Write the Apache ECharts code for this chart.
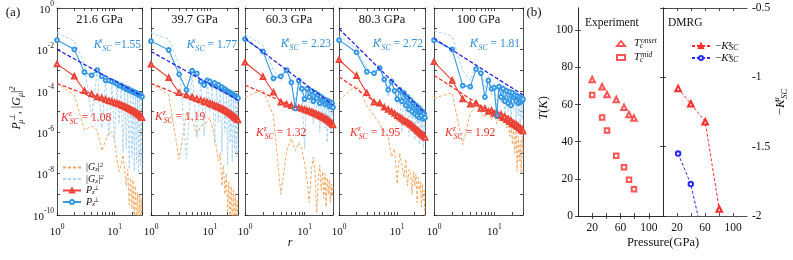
<!DOCTYPE html>
<html><head><meta charset="utf-8">
<script src="https://cdn.jsdelivr.net/npm/echarts@6/dist/echarts.min.js"></script>
<style>html,body{margin:0;padding:0;background:#fff}#c{width:793px;height:260px}</style>
</head><body><div id="c"></div>
<script>
// ---------------- DATA ----------------
const rValues = [1,2,3,4,5,6,7,8,9,10,11,12,13,14,15,16,17,18,19,20,21,22,23,24,25,26,27,28,29,30];
const xTickValues = [1,2,3,4,5,6,7,8,9,10,20,30];
const xLabelValues = [1,10];
const yTickValues = [1,1e-1,1e-2,1e-3,1e-4,1e-5,1e-6,1e-7,1e-8,1e-9,1e-10];
const yLabelValues = [1,1e-2,1e-4,1e-6,1e-8,1e-10];
const panelTitles = ['21.6 GPa','39.7 GPa','60.3 GPa','80.3 GPa','100 GPa'];
const kxTexts = [' =1.55',' = 1.77',' = 2.23',' = 2.72',' = 1.81'];
const kzTexts = [' = 1.08',' = 1.19',' = 1.32',' = 1.95',' = 1.92'];

// log10 of the plotted values (r = 1..30)
const pxLog1 = [-1.55,-2.0,-3.1,-3.25,-3.0,-3.3,-3.5,-3.5,-3.55,-3.6,-3.66,-3.75,-3.74,-3.84,-3.83,-3.92,-3.9,-3.98,-3.97,-4.04,-4.03,-4.09,-4.08,-4.14,-4.13,-4.19,-4.18,-4.23,-4.23,-4.28];
const pzLog1 = [-2.7,-3.3,-4.0,-4.15,-4.3,-4.35,-4.42,-4.48,-4.52,-4.57,-4.6,-4.64,-4.68,-4.72,-4.76,-4.8,-4.83,-4.87,-4.9,-4.94,-4.97,-5.0,-5.04,-5.07,-5.1,-5.14,-5.17,-5.2,-5.25,-5.3];
const gxLog1 = [-1.2,-1.6,-2.7,-5.3,-3.0,-5.8,-3.5,-6.2,-3.6,-6.5,-3.7,-5.6,-3.8,-7.0,-3.9,-6.8,-4.0,-7.8,-4.05,-7.2,-4.1,-7.9,-4.15,-7.5,-4.2,-8.0,-4.25,-7.6,-4.3,-8.0];
const gzLog1 = [-3.64,-4.2,-5.9,-5.7,-5.9,-6.9,-6.4,-6.0,-6.0,-6.4,-7.3,-7.9,-7.6,-7.1,-7.8,-8.6,-7.8,-9.5,-8.2,-9.7,-8.3,-10.5,-8.6,-10.3,-8.9,-10.8,-9.0,-10.5,-9.2,-10.8];

const pxLog2 = [-1.6,-2.03,-3.2,-3.96,-3.03,-3.16,-3.55,-3.72,-3.5,-3.55,-3.7,-3.62,-3.78,-3.72,-3.85,-3.82,-3.95,-3.92,-4.0,-4.02,-4.05,-4.1,-4.12,-4.15,-4.2,-4.22,-4.26,-4.28,-4.32,-4.36];
const pzLog2 = [-2.72,-3.37,-4.09,-4.2,-4.3,-4.38,-4.45,-4.5,-4.55,-4.6,-4.65,-4.7,-4.74,-4.78,-4.82,-4.86,-4.9,-4.94,-4.98,-5.02,-5.06,-5.1,-5.14,-5.18,-5.22,-5.26,-5.3,-5.33,-5.37,-5.41];
const gxLog2 = [-1.2,-1.5,-2.7,-7.3,-3.0,-6.3,-3.5,-6.2,-3.5,-5.0,-3.7,-6.6,-3.8,-5.5,-3.9,-7.0,-4.0,-6.0,-4.1,-7.6,-4.15,-6.5,-4.2,-7.4,-4.25,-6.8,-4.3,-7.2,-4.35,-7.0];
const gzLog2 = [-3.64,-4.2,-7.3,-5.1,-5.4,-6.1,-5.7,-5.6,-5.5,-5.3,-5.8,-6.2,-6.8,-7.4,-7.0,-8.6,-7.6,-9.0,-8.0,-9.8,-8.4,-10.5,-8.6,-10.6,-8.8,-10.8,-9.0,-10.6,-9.3,-10.8];

const pxLog3 = [-1.5,-2.1,-3.4,-3.3,-3.0,-3.6,-4.85,-3.5,-3.9,-4.4,-3.9,-4.3,-4.0,-4.5,-4.1,-4.35,-4.2,-4.6,-4.3,-4.5,-4.4,-4.65,-4.45,-4.6,-4.5,-4.75,-4.55,-4.7,-4.6,-4.8];
const pzLog3 = [-2.62,-3.32,-4.07,-4.55,-4.65,-4.72,-4.78,-4.82,-4.86,-4.9,-4.95,-4.98,-5.02,-5.06,-5.1,-5.13,-5.17,-5.2,-5.24,-5.27,-5.3,-5.34,-5.37,-5.4,-5.44,-5.48,-5.52,-5.56,-5.6,-5.65];
const gxLog3 = [-1.25,-1.8,-3.0,-3.5,-2.9,-3.7,-4.5,-3.4,-3.9,-6.8,-3.8,-4.6,-4.0,-5.6,-4.0,-4.8,-4.2,-6.0,-4.3,-5.2,-4.4,-5.8,-4.4,-6.5,-4.5,-5.5,-4.5,-6.0,-4.6,-5.3];
const gzLog3 = [-4.3,-3.96,-5.2,-9.0,-6.9,-6.3,-6.9,-6.5,-6.8,-7.5,-8.3,-9.4,-7.8,-7.2,-8.0,-9.9,-8.2,-7.6,-8.8,-7.9,-9.2,-8.0,-9.6,-8.2,-9.0,-8.3,-9.4,-8.5,-9.1,-8.6];

const pxLog4 = [-1.55,-2.14,-3.08,-3.15,-2.9,-3.45,-3.95,-3.55,-4.0,-4.4,-3.95,-4.5,-4.1,-4.7,-4.3,-4.9,-4.45,-5.0,-4.6,-5.1,-4.7,-5.2,-4.8,-5.3,-4.9,-5.2,-5.0,-5.35,-5.1,-5.3];
const pzLog4 = [-2.5,-3.27,-4.1,-4.55,-4.6,-4.8,-4.9,-5.0,-5.1,-5.2,-5.28,-5.35,-5.42,-5.48,-5.52,-5.58,-5.63,-5.68,-5.75,-5.8,-5.85,-5.9,-5.95,-6.0,-6.05,-6.08,-6.12,-6.16,-6.2,-6.25];
const gxLog4 = [-1.35,-1.95,-2.9,-3.2,-3.0,-3.4,-4.3,-3.6,-4.1,-4.6,-4.0,-6.0,-4.2,-5.2,-4.4,-6.2,-4.5,-5.5,-4.7,-6.4,-4.8,-5.6,-4.9,-6.6,-5.0,-5.8,-5.1,-6.8,-5.2,-6.0];
const gzLog4 = [-4.45,-3.72,-4.7,-5.2,-5.6,-6.0,-6.2,-7.2,-6.8,-8.5,-7.0,-7.6,-8.2,-7.3,-8.6,-7.8,-8.0,-9.0,-7.9,-8.6,-8.0,-9.4,-8.2,-8.8,-8.4,-9.6,-8.5,-9.3,-8.8,-10.3];

const pxLog5 = [-1.55,-2.0,-3.75,-3.8,-2.95,-3.15,-4.3,-3.5,-3.9,-3.85,-5.2,-3.8,-4.3,-3.9,-4.5,-4.0,-4.6,-4.05,-4.7,-4.1,-4.3,-4.2,-4.5,-4.25,-4.6,-4.3,-4.55,-4.35,-4.5,-4.4];
const pzLog5 = [-2.6,-3.5,-4.4,-4.65,-4.6,-4.85,-4.85,-5.0,-4.95,-5.1,-5.05,-5.2,-5.15,-5.3,-5.25,-5.4,-5.35,-5.5,-5.45,-5.6,-5.55,-5.66,-5.62,-5.74,-5.7,-5.82,-5.78,-5.9,-5.86,-5.95];
const gxLog5 = [-1.1,-1.35,-3.0,-3.5,-2.75,-3.0,-3.9,-3.3,-4.2,-3.6,-4.8,-3.5,-4.6,-3.7,-5.3,-3.8,-5.0,-3.9,-5.6,-4.0,-4.9,-4.1,-5.5,-4.2,-5.2,-4.2,-5.8,-4.3,-5.4,-4.4];
const gzLog5 = [-4.35,-4.1,-6.6,-5.1,-4.7,-5.0,-5.3,-5.0,-5.4,-5.1,-5.6,-5.3,-5.0,-5.5,-5.3,-5.8,-5.4,-6.2,-5.6,-6.6,-5.8,-7.0,-6.0,-7.9,-6.2,-7.4,-6.4,-8.0,-6.2,-7.0];

// power-law fit lines: log10 value at r = 1 and r = 30
const fitREnds = [1, 30];
const fitXLog = [[-2.0,-4.25],[-2.1,-4.45],[-1.47,-4.69],[-1.0,-5.1],[-1.47,-4.2]];
const fitZLog = [[-3.64,-5.22],[-3.64,-5.35],[-3.72,-5.6],[-3.32,-6.2],[-3.25,-6.05]];

// panel (b)
const pressureExp = [20, 34, 41, 54, 65, 72, 79];
const tOnset = [73.5, 69.6, 65.4, 62.7, 58.5, 54.6, 52.8];
const tMid = [65.2, 53.1, 46.1, 32.4, 26.3, 19.5, 14.4];
const pressureDmrg = [21.6, 39.7, 60.3, 80.3];
const negKz = [-1.08, -1.19, -1.32, -1.95];
const pressureDmrgX = [21.6, 39.7, 60.3];
const negKx = [-1.55, -1.77, -2.23];
const bXLabels = [20, 60, 100];
const bXTicks = [20, 40, 60, 80, 100];
const bYLabels = [0, 20, 40, 60, 80, 100];

// ---------------- STYLE / LAYOUT ----------------
const FONT = 'Liberation Serif';
const ORANGE = '#f7a863', LIGHTBLUE = '#aad3f7', RED = '#eb4336', BLUE = '#3598e4';
const FITBLUE = '#2323e0', FITRED = '#ec3a30', BRED = '#ff2a2a', BBLUE = '#2b2bff';
const aLeft = [57,151,245,339,434], aRight = [142,238,333,425,523];
const TOP = 8, AH = 207;

const L = v => Math.pow(10, v);
const pairs = (xs, logs) => xs.map((x, i) => [x, L(logs[i])]);
const zip = (xs, ys) => xs.map((x, i) => [x, ys[i]]);

function richColor(color, size, lh) {
  const c = color || '#111';
  const big = size || 11, small = Math.round(big * 0.68 * 10) / 10;
  const line = lh || big + 4;
  const mk = (fs, italic, va, lineH, w) => {
    const s = {fontFamily: FONT, fontSize: fs, fontStyle: italic ? 'italic' : 'normal', lineHeight: lineH,
      verticalAlign: va, color: c, fill: c};
    if (w) s.width = w;
    return s;
  };
  return {
    t: mk(big, false, 'middle', line),
    k: mk(big, true, 'middle', line),
    p: mk(small, true, 'top', small),
    pw: mk(small, true, 'top', small, 1),
    d: mk(small, true, 'bottom', small),
    dw: mk(small, true, 'bottom', small, 1)
  };
}
const supRich = {
  b: {fontFamily: FONT, fontSize: 11, lineHeight: 15, verticalAlign: 'bottom', color: '#111'},
  s: {fontFamily: FONT, fontSize: 7.5, lineHeight: 8, verticalAlign: 'top', color: '#111'}
};
const supLabel = v => '{b|10}{s|' + Math.round(Math.log10(v)) + '}';
const lineCol = {color: '#222', width: 0.8};

const grids = [], xAxes = [], yAxes = [], series = [];
const panels = [
  [pxLog1, pzLog1, gxLog1, gzLog1],
  [pxLog2, pzLog2, gxLog2, gzLog2],
  [pxLog3, pzLog3, gxLog3, gzLog3],
  [pxLog4, pzLog4, gxLog4, gzLog4],
  [pxLog5, pzLog5, gxLog5, gzLog5]
];
panels.forEach((p, i) => {
  grids.push({left: aLeft[i], top: TOP, width: aRight[i] - aLeft[i], height: AH});
  const xBase = {type: 'log', logBase: 10, min: 1, max: 30, gridIndex: i,
    axisLine: {show: true, lineStyle: lineCol}, splitLine: {show: false},
    axisTick: {show: true, inside: true, length: 3, customValues: xTickValues, lineStyle: lineCol}};
  xAxes.push(Object.assign({}, xBase, {position: 'bottom',
    axisLabel: {show: true, customValues: xLabelValues, formatter: supLabel, rich: supRich, margin: 8}}));
  xAxes.push(Object.assign({}, xBase, {position: 'top', axisLabel: {show: false}}));
  const yBase = {type: 'log', logBase: 10, min: 1e-10, max: 1, gridIndex: i,
    axisLine: {show: true, lineStyle: lineCol}, splitLine: {show: false},
    axisTick: {show: true, inside: true, length: 3, customValues: yTickValues, lineStyle: lineCol}};
  yAxes.push(Object.assign({}, yBase, {position: 'left',
    axisLabel: {show: i === 0, customValues: yLabelValues, formatter: supLabel, rich: supRich, margin: 3}}));
  yAxes.push(Object.assign({}, yBase, {position: 'right', axisLabel: {show: false}}));
  const xi = 2 * i, yi = 2 * i;
  const [px, pz, gx, gz] = p;
  series.push({type: 'line', name: 'Gz', xAxisIndex: xi, yAxisIndex: yi, data: pairs(rValues, gz),
    symbol: 'none', color: ORANGE, lineStyle: {color: ORANGE, width: 1, type: [3, 2]}, z: 1});
  series.push({type: 'line', name: 'Gx', xAxisIndex: xi, yAxisIndex: yi, data: pairs(rValues, gx),
    symbol: 'none', color: LIGHTBLUE, lineStyle: {color: LIGHTBLUE, width: 1, type: [3, 2]}, z: 2});
  series.push({type: 'line', name: 'Pz', xAxisIndex: xi, yAxisIndex: yi, data: pairs(rValues, pz),
    symbol: 'emptyTriangle', symbolSize: 4.5, color: RED, lineStyle: {color: RED, width: 1.1},
    itemStyle: {color: RED, borderColor: RED, borderWidth: 0.8}, z: 3});
  series.push({type: 'line', name: 'Px', xAxisIndex: xi, yAxisIndex: yi, data: pairs(rValues, px),
    symbol: 'emptyCircle', symbolSize: 3.8, color: BLUE, lineStyle: {color: BLUE, width: 1.1},
    itemStyle: {color: BLUE, borderColor: BLUE, borderWidth: 0.8}, z: 4});
  series.push({type: 'line', name: 'fitx' + i, xAxisIndex: xi, yAxisIndex: yi,
    data: fitREnds.map((r, j) => [r, L(fitXLog[i][j])]), symbol: 'none',
    lineStyle: {color: FITBLUE, width: 1.3, type: [4, 2]}, z: 5});
  series.push({type: 'line', name: 'fitz' + i, xAxisIndex: xi, yAxisIndex: yi,
    data: fitREnds.map((r, j) => [r, L(fitZLog[i][j])]), symbol: 'none',
    lineStyle: {color: FITRED, width: 1.3, type: [4, 2]}, z: 5});
});

// panel (b) grids
const bGrids = [{left: 578, top: TOP, width: 85, height: 208}, {left: 663, top: TOP, width: 84, height: 208}];
bGrids.forEach(g => grids.push(g));
[5, 6].forEach(gi => {
  const xBase = {type: 'value', min: 0, max: 120, gridIndex: gi,
    axisLine: {show: true, lineStyle: lineCol}, splitLine: {show: false},
    axisTick: {show: true, inside: true, length: 3, customValues: bXTicks, lineStyle: lineCol}};
  xAxes.push(Object.assign({}, xBase, {position: 'bottom',
    axisLabel: {show: true, customValues: bXLabels, fontFamily: FONT, fontSize: 11.5, color: '#111', margin: 6}}));
  xAxes.push(Object.assign({}, xBase, {position: 'top', axisLabel: {show: false}}));
});
// b1 y
yAxes.push({type: 'value', min: 0, max: 112, gridIndex: 5, position: 'left',
  axisLine: {show: true, lineStyle: lineCol}, splitLine: {show: false},
  axisTick: {show: true, inside: true, length: 3, customValues: bYLabels, lineStyle: lineCol},
  axisLabel: {show: true, customValues: bYLabels, fontFamily: FONT, fontSize: 11.5, color: '#111', margin: 5}});
yAxes.push({type: 'value', min: 0, max: 112, gridIndex: 5, position: 'right',
  axisLine: {show: true, lineStyle: lineCol}, splitLine: {show: false},
  axisTick: {show: true, inside: true, length: 3, customValues: bYLabels, lineStyle: lineCol},
  axisLabel: {show: false}});
// b2 y (labels on right)
yAxes.push({type: 'value', min: -2, max: -0.5, interval: 0.5, gridIndex: 6, position: 'right',
  axisLine: {show: true, lineStyle: lineCol}, splitLine: {show: false},
  axisTick: {show: true, inside: true, length: 3, lineStyle: lineCol},
  axisLabel: {show: true, fontFamily: FONT, fontSize: 11.5, color: '#111', margin: 5}});
yAxes.push({type: 'value', min: -2, max: -0.5, interval: 0.5, gridIndex: 6, position: 'left',
  axisLine: {show: true, lineStyle: lineCol}, splitLine: {show: false},
  axisTick: {show: true, inside: true, length: 3, lineStyle: lineCol},
  axisLabel: {show: false}});

series.push({type: 'scatter', name: 'Tonset', xAxisIndex: 10, yAxisIndex: 10, data: zip(pressureExp, tOnset),
  symbol: 'emptyTriangle', symbolSize: 5.5, color: BRED, itemStyle: {color: BRED, borderColor: BRED, borderWidth: 1}});
series.push({type: 'scatter', name: 'Tmid', xAxisIndex: 10, yAxisIndex: 10, data: zip(pressureExp, tMid),
  symbol: 'emptyRect', symbolSize: 4.5, color: BRED, itemStyle: {color: BRED, borderColor: BRED, borderWidth: 1}});
series.push({type: 'line', name: 'nKz', xAxisIndex: 12, yAxisIndex: 12, data: zip(pressureDmrg, negKz),
  symbol: 'emptyTriangle', symbolSize: 5.5, color: BRED, lineStyle: {color: BRED, width: 1, type: [3, 2]},
  itemStyle: {color: BRED, borderColor: BRED, borderWidth: 1}});
series.push({type: 'line', name: 'nKx', xAxisIndex: 12, yAxisIndex: 12, data: zip(pressureDmrgX, negKx),
  symbol: 'emptyCircle', symbolSize: 4.5, color: BBLUE, lineStyle: {color: BBLUE, width: 1, type: [3, 2]},
  itemStyle: {color: BBLUE, borderColor: BBLUE, borderWidth: 1}});

const legendNames = {
  Gz: '{t||}{k|G}{d|z}{t||}{p|2}',
  Gx: '{t||}{k|G}{d|x}{t||}{p|2}',
  Pz: '{k|P}{dw|z}{p|⊥}',
  Px: '{k|P}{dw|x}{p|⊥}',
  Tonset: '{k|T}{dw|c}{p|onset}',
  Tmid: '{k|T}{dw|c}{p|mid}',
  nKz: '{t|−}{k|K}{pw|z}{d|SC}',
  nKx: '{t|−}{k|K}{pw|x}{d|SC}'
};
const lfmt = n => legendNames[n];
const hiddenSym = {opacity: 0, color: 'transparent', borderColor: 'transparent'};
const legends = [
  {data: [{name: 'Gz', itemStyle: hiddenSym}, {name: 'Gx', itemStyle: hiddenSym}, 'Pz', 'Px'],
    orient: 'vertical', left: 57, top: 157, itemWidth: 18, itemHeight: 5,
    itemGap: 0.5, formatter: lfmt, textStyle: {rich: richColor(null, 10, 11)}},
  {data: ['Tonset', 'Tmid'], orient: 'vertical', left: 611, top: 32, itemWidth: 8, itemHeight: 5,
    itemGap: 1, formatter: lfmt, textStyle: {rich: richColor(null, 11, 13), padding: [0, 0, 0, 4]}},
  {data: ['nKz', 'nKx'], orient: 'vertical', left: 686, top: 35, itemWidth: 18, itemHeight: 5,
    itemGap: 0, formatter: lfmt, textStyle: {rich: richColor(null, 11, 12)}}
];

// ---------------- TEXT ----------------
const graphics = [];
function txt(x, y, text, opts) {
  const o = Object.assign({size: 12, align: 'center', va: 'middle', color: '#111', italic: false, rotate: 0, rich: null}, opts || {});
  graphics.push({type: 'text', x: x, y: y, rotation: o.rotate, z: 100, silent: true,
    style: {text: text, fill: o.color, align: o.align, verticalAlign: o.va, textAlign: o.align, textVerticalAlign: o.va,
      fontFamily: FONT, fontSize: o.size, fontStyle: o.italic ? 'italic' : 'normal', rich: o.rich || undefined}});
}
txt(13, 13, '(a)', {size: 13});
txt(534, 13, '(b)', {size: 13});
panelTitles.forEach((t, i) => txt((aLeft[i] + aRight[i]) / 2, 20, t, {size: 12.5}));
const kxRight = [141, 237, 331, 423, 520];
const kxY = [45, 45, 44, 44, 44];
const kzLeft = [61, 155, 256, 350, 445];
const kzY = [118, 117, 133, 133, 133];
const KXCOL = '#2f8fdc', KZCOL = '#ea2f2a';
panelTitles.forEach((t, i) => {
  txt(kxRight[i], kxY[i], '{k|K}{pw|x}{d|SC}{t|' + kxTexts[i] + '}', {align: 'right', color: KXCOL, rich: richColor(KXCOL, 11.5)});
  txt(kzLeft[i], kzY[i], '{k|K}{pw|z}{d|SC}{t|' + kzTexts[i] + '}', {align: 'left', color: KZCOL, rich: richColor(KZCOL, 11.5)});
});
txt(290, 243, 'r', {italic: true, size: 12});
txt(17, 108, '{k|P}{dw|μ}{p|⊥}{t|, |}{k|G}{d|μ}{t||}{p|2}', {rotate: Math.PI / 2, rich: richColor(null, 12)});
txt(663, 243, 'Pressure(GPa)', {size: 12.5});
txt(544, 108, '{k|T}{t|(}{k|K}{t|)}', {rotate: Math.PI / 2, rich: richColor(null, 12.5)});
txt(781, 102, '{t|−}{k|K}{pw|μ}{d|SC}', {rotate: Math.PI / 2, rich: richColor(null, 12.5)});
txt(585, 23, 'Experiment', {align: 'left', size: 11.5});
txt(668, 23, 'DMRG', {align: 'left', size: 11.5});

const chart = echarts.init(document.getElementById('c'), null, {renderer: 'canvas'});
chart.setOption({
  animation: false,
  backgroundColor: '#fff',
  textStyle: {fontFamily: FONT},
  grid: grids, xAxis: xAxes, yAxis: yAxes, series: series, legend: legends, graphic: graphics
});
</script></body></html>
